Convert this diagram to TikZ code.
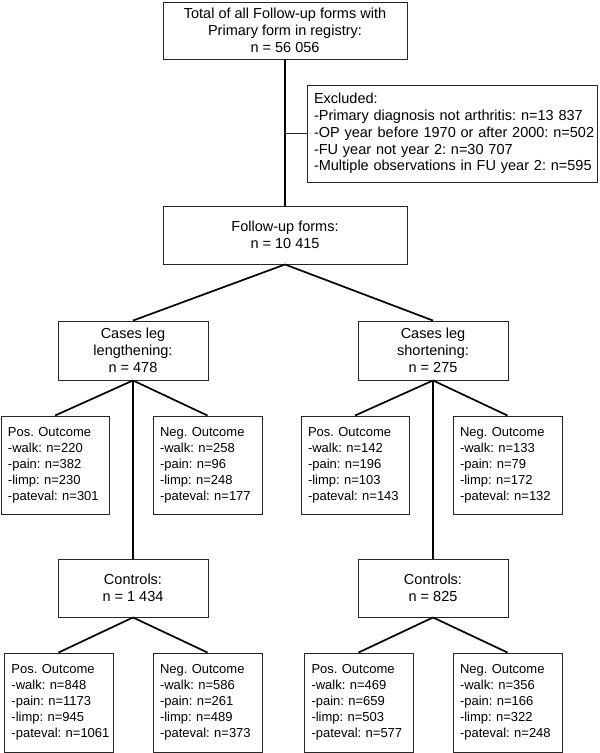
\documentclass[tikz,border=0pt]{standalone}
\usepackage{fontspec}
\setmainfont{Liberation Sans}
\frenchspacing
\exhyphenpenalty=10000
\hyphenpenalty=10000
\begin{document}
\begin{tikzpicture}[x=1pt,y=-1pt,
  box/.style={draw=black!85, line width=0.9pt, inner sep=0pt,
    font=\fontsize{14.5}{16.8}\selectfont},
  cbox/.style={box, align=center},
  lbox/.style={box, align=left, inner xsep=7pt},
  obox/.style={lbox, font=\fontsize{13}{16}\selectfont},
  conn/.style={line width=1.7pt, black}]
\useasboundingbox (0,0) rectangle (600,753);
% top
\node[cbox, minimum width=244pt, minimum height=57pt] (top) at (285,30.5)
  {Total of all Follow-up forms with\\Primary form in registry:\\n = 56 056};
\node[lbox, minimum height=97pt, text width=276pt] (excl) at (452,133.5)
  {Excluded:\\-Primary~diagnosis~not~arthritis:~n=13~837\\-OP~year~before~1970~or~after~2000:~n=502\\-FU~year~not~year~2:~n=30~707\\-Multiple~observations~in~FU~year~2:~n=595};
\node[cbox, minimum width=244pt, minimum height=58pt] (fu) at (285,235)
  {Follow-up forms:\\n = 10 415};
% cases
\node[cbox, minimum width=150pt, minimum height=59pt] (cl) at (133,350.5)
  {Cases leg\\lengthening:\\n = 478};
\node[cbox, minimum width=150pt, minimum height=59pt] (cr) at (433,350.5)
  {Cases leg\\shortening:\\n = 275};
% outcomes of cases
\node[obox, minimum height=98pt, text width=94pt] (clp) at (55,465)
  {Pos.~Outcome\\-walk:~n=220\\-pain:~n=382\\-limp:~n=230\\-pateval:~n=301};
\node[obox, minimum height=98pt, text width=95pt] (cln) at (207.5,465)
  {Neg.~Outcome\\-walk:~n=258\\-pain:~n=96\\-limp:~n=248\\-pateval:~n=177};
\node[obox, minimum height=98pt, text width=94pt] (crp) at (355,465)
  {Pos.~Outcome\\-walk:~n=142\\-pain:~n=196\\-limp:~n=103\\-pateval:~n=143};
\node[obox, minimum height=98pt, text width=95pt] (crn) at (507.5,465)
  {Neg.~Outcome\\-walk:~n=133\\-pain:~n=79\\-limp:~n=172\\-pateval:~n=132};
% controls
\node[cbox, minimum width=150pt, minimum height=58pt] (kl) at (133,588)
  {Controls:\\n = 1 434};
\node[cbox, minimum width=150pt, minimum height=58pt] (kr) at (433,588)
  {Controls:\\n = 825};
% outcomes of controls
\node[obox, minimum height=99pt, text width=94pt, inner xsep=7.5pt] (klp) at (58.5,702.5)
  {Pos.~Outcome\\-walk:~n=848\\-pain:~n=1173\\-limp:~n=945\\-pateval:~n=1061};
\node[obox, minimum height=99pt, text width=95pt] (kln) at (207.5,702.5)
  {Neg.~Outcome\\-walk:~n=586\\-pain:~n=261\\-limp:~n=489\\-pateval:~n=373};
\node[obox, minimum height=99pt, text width=94pt, inner xsep=7.5pt] (krp) at (358.5,702.5)
  {Pos.~Outcome\\-walk:~n=469\\-pain:~n=659\\-limp:~n=503\\-pateval:~n=577};
\node[obox, minimum height=99pt, text width=95pt] (krn) at (507.5,702.5)
  {Neg.~Outcome\\-walk:~n=356\\-pain:~n=166\\-limp:~n=322\\-pateval:~n=248};
% connectors
\draw[conn] (top.south) -- (fu.north);
\draw[line width=0.9pt, black!85] (top.south |- excl.west) -- (excl.west);
\draw[conn] (fu.south) -- (cl.north);
\draw[conn] (fu.south) -- (cr.north);
\draw[conn] (cl.south) -- (clp.north);
\draw[conn] (cl.south) -- (cln.north);
\draw[conn] (cl.south) -- (kl.north);
\draw[conn] (cr.south) -- (crp.north);
\draw[conn] (cr.south) -- (crn.north);
\draw[conn] (cr.south) -- (kr.north);
\draw[conn] (kl.south) -- (klp.north);
\draw[conn] (kl.south) -- (kln.north);
\draw[conn] (kr.south) -- (krp.north);
\draw[conn] (kr.south) -- (krn.north);
\end{tikzpicture}
\end{document}
